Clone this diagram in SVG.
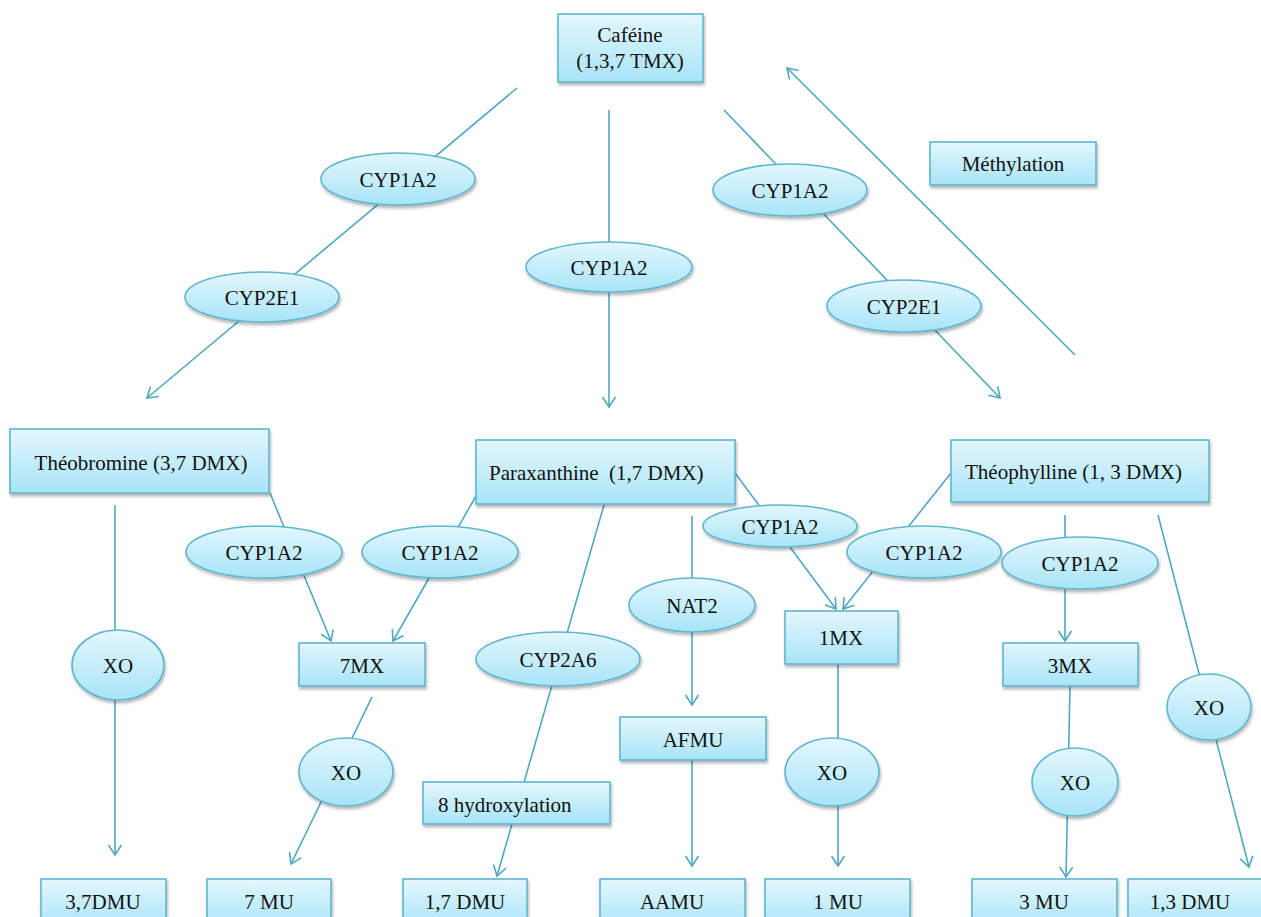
<svg xmlns="http://www.w3.org/2000/svg" width="1261" height="917" viewBox="0 0 1261 917">
<defs>
<linearGradient id="g" x1="0" y1="0" x2="0" y2="1">
<stop offset="0" stop-color="#e3f7fd"/>
<stop offset="1" stop-color="#a8e4f8"/>
</linearGradient>
<filter id="sh" x="-10%" y="-20%" width="120%" height="150%">
<feDropShadow dx="1" dy="2.5" stdDeviation="1.5" flood-color="#000" flood-opacity="0.3"/>
</filter>
<marker id="ar" viewBox="-12 -8 14 16" refX="0" refY="0" markerWidth="14" markerHeight="16" markerUnits="userSpaceOnUse" orient="auto">
<path d="M-10,-6.5 L0,0 L-10,6.5" fill="none" stroke="#4fa8c4" stroke-width="1.6"/>
</marker>
</defs>
<style>
.n rect, .n ellipse { fill: url(#g); stroke: #5fb6cf; stroke-width: 1.6; filter: url(#sh); }
.n text { font-family: "Liberation Serif", "Times New Roman", serif; font-size: 21px; fill: #111; }
.m { text-anchor: middle; }
#connectors line { stroke: #4fa8c4; stroke-width: 1.6; marker-end: url(#ar); }
</style>
<rect width="1261" height="917" fill="#fff"/>
<g id="connectors">
<line x1="517" y1="88" x2="147" y2="398"/>
<line x1="609" y1="110" x2="609" y2="407"/>
<line x1="724" y1="110" x2="1000" y2="398"/>
<line x1="1075" y1="355" x2="787" y2="68"/>
<line x1="115" y1="505" x2="115" y2="855"/>
<line x1="270" y1="493" x2="331" y2="641"/>
<line x1="476" y1="496" x2="393" y2="641"/>
<line x1="604" y1="505" x2="497" y2="876"/>
<line x1="692" y1="516" x2="692" y2="705"/>
<line x1="692" y1="760" x2="692" y2="866"/>
<line x1="735" y1="473" x2="836" y2="609"/>
<line x1="951" y1="473" x2="843" y2="609"/>
<line x1="1065" y1="515" x2="1065" y2="641"/>
<line x1="1158" y1="515" x2="1249" y2="867"/>
<line x1="372" y1="697" x2="291" y2="864"/>
<line x1="838" y1="664" x2="838" y2="866"/>
<line x1="1070" y1="686" x2="1066" y2="877"/>
</g>
<g id="cafeine" class="n"><rect x="558" y="14" width="145" height="68"/><text class="m" x="630" y="42">Caféine</text><text class="m" x="630" y="68">(1,3,7 TMX)</text></g>
<g id="methylation" class="n"><rect x="930" y="142" width="166" height="43"/><text class="m" x="1013" y="171">Méthylation</text></g>
<g id="cyp1a2-a" class="n"><ellipse cx="398" cy="179" rx="77" ry="26"/><text class="m" x="398" y="187">CYP1A2</text></g>
<g id="cyp2e1-a" class="n"><ellipse cx="262" cy="297" rx="77" ry="25"/><text class="m" x="262" y="305">CYP2E1</text></g>
<g id="cyp1a2-b" class="n"><ellipse cx="609" cy="267" rx="83" ry="25"/><text class="m" x="609" y="275">CYP1A2</text></g>
<g id="cyp1a2-c" class="n"><ellipse cx="790" cy="190" rx="77" ry="26"/><text class="m" x="790" y="198">CYP1A2</text></g>
<g id="cyp2e1-b" class="n"><ellipse cx="904" cy="306" rx="77" ry="26"/><text class="m" x="904" y="314">CYP2E1</text></g>
<g id="theobromine" class="n"><rect x="10" y="429" width="259" height="64"/><text class="m" x="141" y="470">Théobromine (3,7 DMX)</text></g>
<g id="paraxanthine" class="n"><rect x="476" y="440" width="259" height="64"/><text x="489" y="480" xml:space="preserve">Paraxanthine  (1,7 DMX)</text></g>
<g id="theophylline" class="n"><rect x="951" y="440" width="258" height="62"/><text x="965" y="479">Théophylline (1, 3 DMX)</text></g>
<g id="cyp1a2-d" class="n"><ellipse cx="264" cy="552" rx="78" ry="26"/><text class="m" x="264" y="560">CYP1A2</text></g>
<g id="cyp1a2-e" class="n"><ellipse cx="440" cy="552" rx="78" ry="26"/><text class="m" x="440" y="560">CYP1A2</text></g>
<g id="cyp1a2-f" class="n"><ellipse cx="780" cy="526" rx="77" ry="21"/><text class="m" x="780" y="534">CYP1A2</text></g>
<g id="cyp1a2-g" class="n"><ellipse cx="924" cy="552" rx="77" ry="26"/><text class="m" x="924" y="560">CYP1A2</text></g>
<g id="cyp1a2-h" class="n"><ellipse cx="1080" cy="563" rx="78" ry="26"/><text class="m" x="1080" y="571">CYP1A2</text></g>
<g id="nat2" class="n"><ellipse cx="692" cy="605" rx="63" ry="27"/><text class="m" x="692" y="613">NAT2</text></g>
<g id="cyp2a6" class="n"><ellipse cx="558" cy="659" rx="82" ry="27"/><text class="m" x="558" y="667">CYP2A6</text></g>
<g id="mx7" class="n"><rect x="299" y="643" width="126" height="43"/><text class="m" x="362" y="673">7MX</text></g>
<g id="mx1" class="n"><rect x="785" y="611" width="113" height="53"/><text class="m" x="841" y="645">1MX</text></g>
<g id="mx3" class="n"><rect x="1003" y="643" width="135" height="43"/><text class="m" x="1070" y="673">3MX</text></g>
<g id="afmu" class="n"><rect x="620" y="717" width="146" height="43"/><text class="m" x="693" y="747">AFMU</text></g>
<g id="hydrox" class="n"><rect x="423" y="782" width="187" height="42"/><text x="438" y="812">8 hydroxylation</text></g>
<g id="xo-a" class="n"><ellipse cx="118" cy="665" rx="46" ry="35"/><text class="m" x="118" y="673">XO</text></g>
<g id="xo-b" class="n"><ellipse cx="346" cy="772" rx="47" ry="34"/><text class="m" x="346" y="780">XO</text></g>
<g id="xo-c" class="n"><ellipse cx="832" cy="772" rx="47" ry="34"/><text class="m" x="832" y="780">XO</text></g>
<g id="xo-d" class="n"><ellipse cx="1075" cy="782" rx="43" ry="34"/><text class="m" x="1075" y="790">XO</text></g>
<g id="xo-e" class="n"><ellipse cx="1209" cy="707" rx="42" ry="33"/><text class="m" x="1209" y="715">XO</text></g>
<g id="dmu37" class="n"><rect x="41" y="879" width="125" height="50"/><text class="m" x="103" y="909">3,7DMU</text></g>
<g id="mu7" class="n"><rect x="207" y="879" width="124" height="50"/><text class="m" x="269" y="909">7 MU</text></g>
<g id="dmu17" class="n"><rect x="403" y="879" width="124" height="50"/><text class="m" x="465" y="909">1,7 DMU</text></g>
<g id="aamu" class="n"><rect x="600" y="879" width="145" height="50"/><text class="m" x="672" y="909">AAMU</text></g>
<g id="mu1" class="n"><rect x="765" y="879" width="145" height="50"/><text class="m" x="838" y="909">1 MU</text></g>
<g id="mu3" class="n"><rect x="972" y="879" width="145" height="50"/><text class="m" x="1044" y="909">3 MU</text></g>
<g id="dmu13" class="n"><rect x="1128" y="879" width="140" height="50"/><text class="m" x="1190" y="909">1,3 DMU</text></g>
</svg>
